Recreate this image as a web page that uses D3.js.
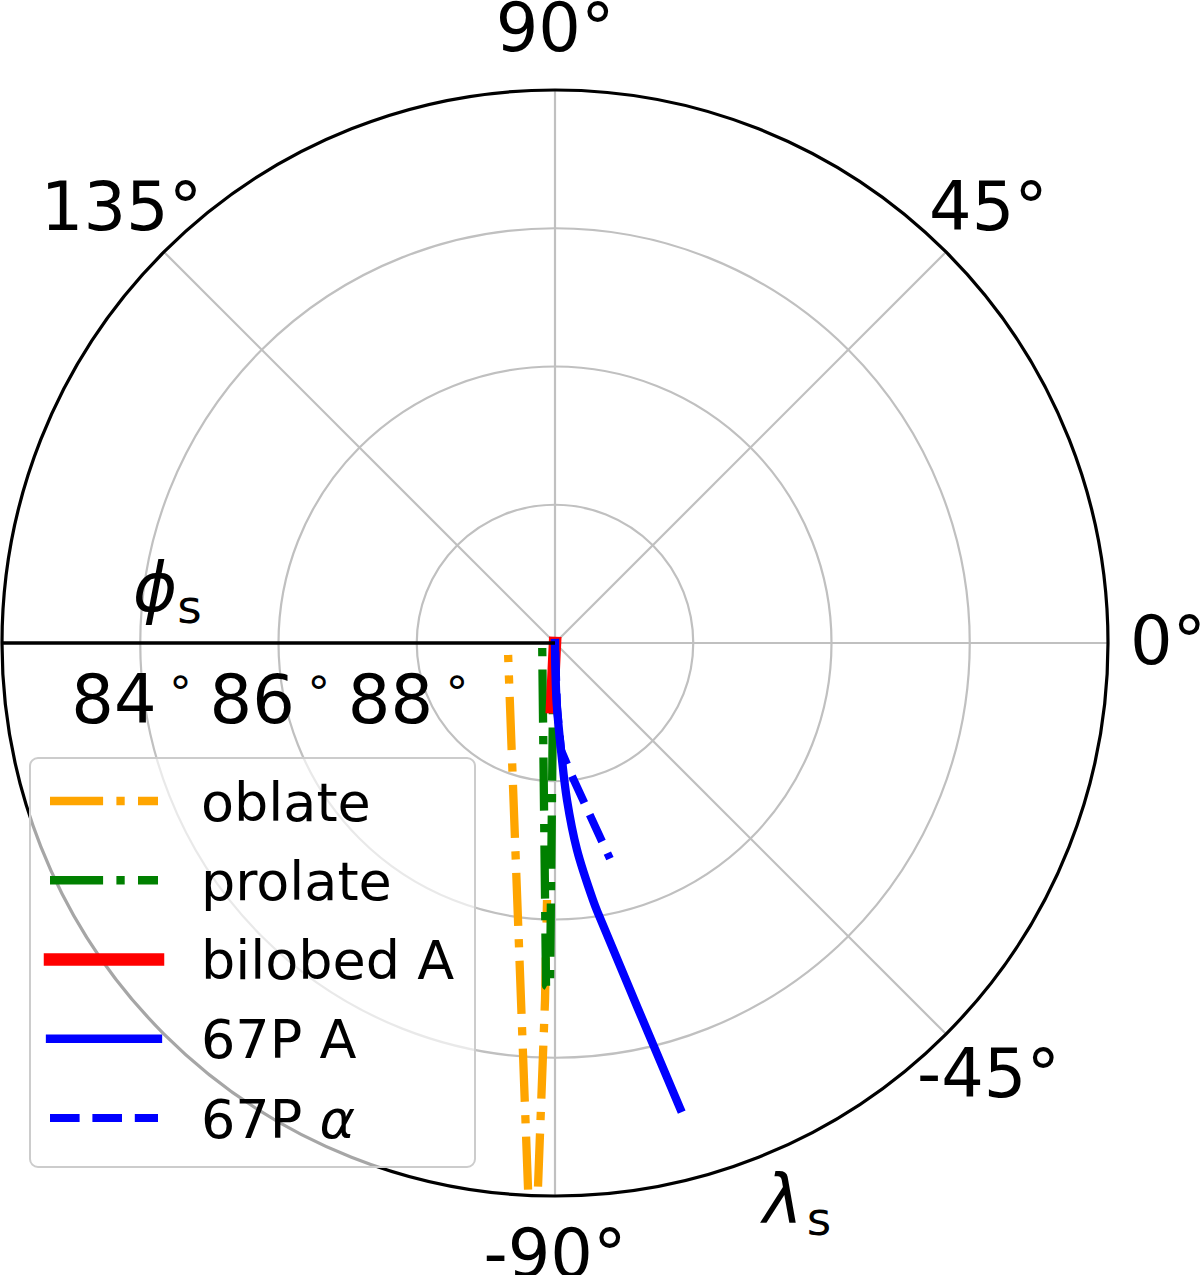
<!DOCTYPE html>
<html><head><meta charset="utf-8">
<script src="https://cdn.jsdelivr.net/npm/d3@7"></script>
<style>html,body{margin:0;padding:0;background:#fff}svg{display:block}</style>
</head><body><svg id="chart" width="1200" height="1275"></svg>
<script>
// ---- data ----
const thetaTicks = [0, 45, 90, 135, -45, -90];
const thetaTickLabels = ["0°", "45°", "90°", "135°", "-45°", "-90°"];
const radialTicks = [88, 86, 84];
const radialTickLabels = ["88", "86", "84"];
const seriesNames = ["oblate", "prolate", "bilobed A", "67P A", "67P α"];

const oblateLambda = [-165.68, -92.72, -91.80, -91.60, -91.78];
const oblatePhi    = [89.30, 81.92, 81.92, 84.83, 86.28];

const prolateLambda = [-167.01, -91.50, -90.83, -92.01, -90.00];
const prolatePhi    = [89.81, 85.04, 85.01, 89.17, 89.90];

const bilobedLambda = [-90.00, -92.68];
const bilobedPhi    = [90.00, 89.07];

const p67ALambda = [-90.00, -88.49, -86.79, -85.63, -83.93, -81.59, -80.95, -74.95];
const p67APhi    = [90.00, 89.18, 88.45, 87.72, 86.99, 86.24, 86.04, 83.03];

const p67alphaLambda = [-90.00, -88.21, -86.79, -82.72, -75.71];
const p67alphaPhi    = [90.00, 89.07, 88.45, 88.06, 86.78];

// ---- styles ----
const styles = [
  {color: "#ffa500", width: 8.3, dash: "53.1 13.3 8.3 13.3", offset: 46, cap: "butt", smooth: false},
  {color: "#008000", width: 8.3, dash: "53.1 13.3 8.3 13.3", offset: 64.4, cap: "butt", smooth: false},
  {color: "#ff0000", width: 12.5, dash: null, offset: 0, cap: "square", smooth: false},
  {color: "#0000ff", width: 8.3, dash: null, offset: 0, cap: "square", smooth: true},
  {color: "#0000ff", width: 8, dash: "29.6 12.8", offset: 34.1, cap: "butt", smooth: false}
];
const seriesData = [
  [oblateLambda, oblatePhi],
  [prolateLambda, prolatePhi],
  [bilobedLambda, bilobedPhi],
  [p67ALambda, p67APhi],
  [p67alphaLambda, p67alphaPhi]
].map(([L, P]) => L.map((l, i) => ({l: l, p: P[i]})));

// ---- layout ----
const font = "DejaVu Sans";
const cx = 555, cy = 643, R = 553;
const svg = d3.select("#chart");
svg.append("rect").attr("width", 1200).attr("height", 1275).attr("fill", "#fff");

const rScale = d3.scaleLinear().domain([90, 82]).range([0, R]);
// math angle (deg, ccw from +x) -> d3 radial angle (rad, cw from 12 o'clock)
const aScale = d3.scaleLinear().domain([0, 90]).range([Math.PI / 2, 0]);
const px = (l, p) => rScale(p) * Math.sin(aScale(l));
const py = (l, p) => -rScale(p) * Math.cos(aScale(l));

const g = svg.append("g").attr("transform", `translate(${cx},${cy})`);
const defs = svg.append("defs");
defs.append("clipPath").attr("id", "clip").append("circle").attr("r", R);

// grid circles
g.selectAll("circle.grid").data(radialTicks).join("circle")
  .attr("class", "grid").attr("r", d => rScale(d))
  .attr("fill", "none").attr("stroke", "#c0c0c0").attr("stroke-width", 2.2);
// grid spokes
g.selectAll("line.spoke").data(thetaTicks).join("line")
  .attr("class", "spoke")
  .attr("x1", 0).attr("y1", 0)
  .attr("x2", d => px(d, 82)).attr("y2", d => py(d, 82))
  .attr("stroke", "#c0c0c0").attr("stroke-width", 2.2);

// data lines
const line = d3.lineRadial().angle(d => aScale(d.l)).radius(d => rScale(d.p));
const smoothLine = d3.lineRadial().angle(d => aScale(d.l)).radius(d => rScale(d.p))
  .curve(d3.curveCatmullRom.alpha(0.5));
const lines = g.append("g").attr("clip-path", "url(#clip)");
seriesData.forEach((s, i) => {
  const st = styles[i];
  const p = lines.append("path").attr("d", (st.smooth ? smoothLine : line)(s))
    .attr("fill", "none").attr("stroke", st.color)
    .attr("stroke-width", st.width).attr("stroke-linecap", st.cap)
    .attr("stroke-linejoin", "round");
  if (st.dash) p.attr("stroke-dasharray", st.dash).attr("stroke-dashoffset", st.offset);
});

// 180 deg axis line and outer circle
g.append("line").attr("x1", 0).attr("y1", 0)
  .attr("x2", px(180, 82)).attr("y2", py(180, 82))
  .attr("stroke", "#000").attr("stroke-width", 3.5);
g.append("circle").attr("r", R).attr("fill", "none")
  .attr("stroke", "#000").attr("stroke-width", 3.2);

// theta tick labels
g.selectAll("text.theta").data(thetaTicks).join("text")
  .attr("class", "theta")
  .attr("x", d => 613 * Math.cos(d * Math.PI / 180))
  .attr("y", d => -613 * Math.sin(d * Math.PI / 180) + 20.5)
  .attr("text-anchor", "middle")
  .attr("font-family", font).attr("font-size", 67).attr("fill", "#000")
  .text((d, i) => thetaTickLabels[i]);

// radial tick labels (along 180 deg)
radialTicks.forEach((t, i) => {
  const xt = -rScale(t);
  g.append("text").attr("x", xt - 69).attr("y", 80)
    .attr("font-family", font).attr("font-size", 67).attr("fill", "#000")
    .text(radialTickLabels[i]);
  g.append("text").attr("x", xt + 29).attr("y", 65)
    .attr("font-family", font).attr("font-size", 45).attr("fill", "#000")
    .text("°");
});

// axis labels
const phiLab = svg.append("text").attr("x", 133).attr("y", 611)
  .attr("font-family", font).attr("font-size", 67).attr("fill", "#000");
phiLab.append("tspan").attr("font-style", "italic").text("ϕ");
phiLab.append("tspan").attr("font-size", 47).attr("dy", 12).text("s");

const lamLab = svg.append("text").attr("x", 763).attr("y", 1223)
  .attr("font-family", font).attr("font-size", 67).attr("fill", "#000");
lamLab.append("tspan").attr("font-style", "italic").text("λ");
lamLab.append("tspan").attr("font-size", 47).attr("dy", 12).attr("dx", 4).text("s");

// legend
const lg = svg.append("g");
lg.append("rect").attr("x", 30).attr("y", 758).attr("width", 445).attr("height", 409)
  .attr("rx", 8).attr("fill", "#fff").attr("fill-opacity", 0.65)
  .attr("stroke", "#cccccc").attr("stroke-width", 2);
seriesNames.forEach((name, i) => {
  const st = styles[i];
  const y = 801 + i * 79.25;
  const l = lg.append("line").attr("x1", 50).attr("x2", 158).attr("y1", y).attr("y2", y)
    .attr("stroke", st.color).attr("stroke-width", st.width).attr("stroke-linecap", st.cap);
  if (st.dash) l.attr("stroke-dasharray", st.dash);
  const t = lg.append("text").attr("x", 201).attr("y", y + 19.5)
    .attr("font-family", font).attr("font-size", 54).attr("fill", "#000");
  if (name.endsWith("α")) {
    t.append("tspan").text("67P ");
    t.append("tspan").attr("font-style", "italic").text("α");
  } else {
    t.text(name);
  }
});
</script></body></html>
